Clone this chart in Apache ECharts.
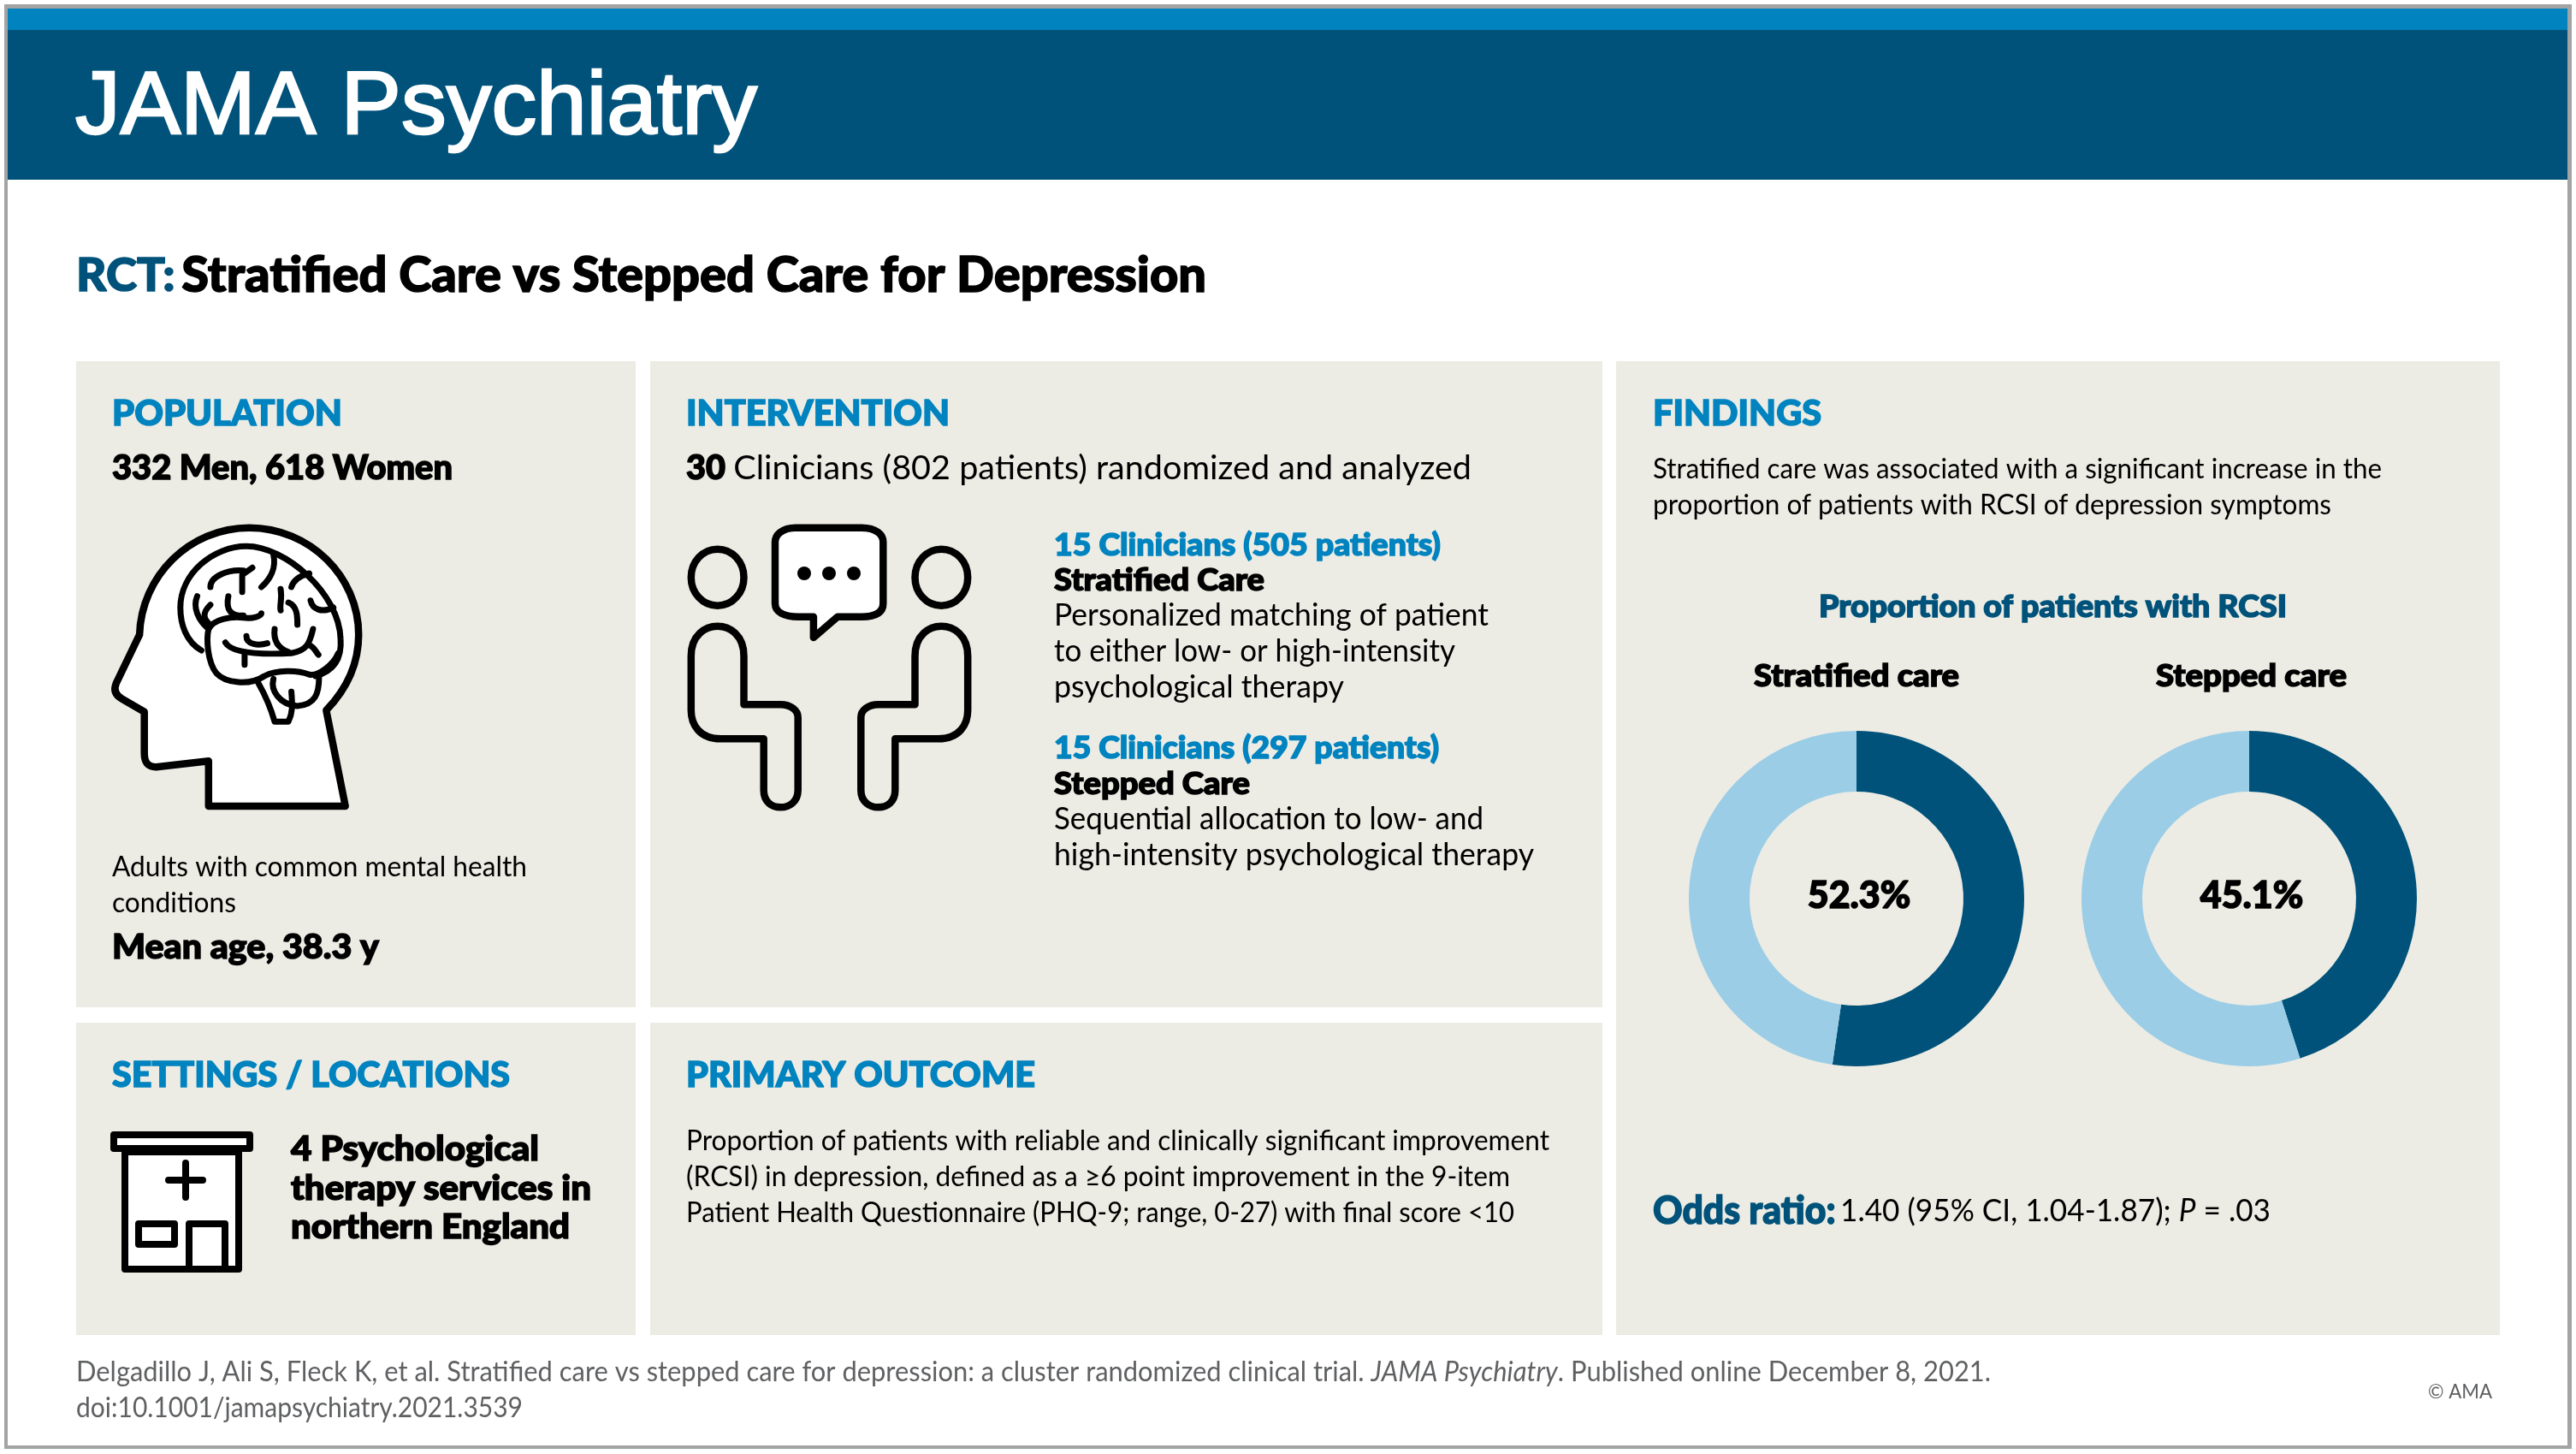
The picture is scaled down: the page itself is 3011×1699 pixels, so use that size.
<!DOCTYPE html>
<html><head><meta charset="utf-8">
<style>html,body{margin:0;padding:0;background:#fff}#c{width:3011px;height:1699px}</style>
<script src="https://cdn.jsdelivr.net/npm/echarts@6/dist/echarts.min.js"></script>
</head><body><div id="c"></div>
<script>
// ---- data ----
const categories = ['Stratified care', 'Stepped care'];
const sliceNames = ['Patients with RCSI', 'Patients without RCSI'];
const stratifiedValues = [52.3, 47.7];
const steppedValues = [45.1, 54.9];

const DARK='#00527A', BLUE='#0083BF', LIGHT='#9BCDE6', PANEL='#ECECE4', BLACK='#000', GRAY='#5F6062';
const SANS='Lato';
const ctx=document.createElement('canvas').getContext('2d');
function fontStr(r){return `${r.fontStyle||'normal'} ${r.fontWeight} ${r.fontSize}px ${r.fontFamily}`;}
function width(r,t){ctx.font=fontStr(r);return ctx.measureText(t).width;}
const els=[];
function rect(x0,y0,x1,y1,fill){els.push({type:'rect',silent:true,shape:{x:x0,y:y0,width:x1-x0,height:y1-y0},style:{fill}});}
const heavy=(w,color)=>w>=700?{stroke:color,lineWidth:1.5,lineJoin:'round'}:{};
// one line of text, stretched to span x0..x1 with its middle at y
function line(t,x0,x1,y,size,weight,color,family){
  const r={fontSize:size,fontWeight:weight,fontFamily:family||SANS};
  els.push({type:'text',silent:true,x:x0,y:y+1,scaleX:(x1-x0)/width(r,t),
    style:{text:t,fill:color,align:'left',verticalAlign:'middle',...r,...heavy(weight,color)}});
}
// mixed-style line: runs = [[text, size, weight, color, italic]]
function mixed(runs,x0,x1,y){
  let w=0,s='';const rich={};
  runs.forEach((u,i)=>{const r={fontSize:u[1],fontWeight:u[2],fontFamily:SANS,fontStyle:u[4]?'italic':'normal'};
    w+=width(r,u[0]);s+=`{r${i}|${u[0]}}`;rich['r'+i]={...r,fill:u[3],...heavy(u[2],u[3])};});
  els.push({type:'text',silent:true,x:x0,y:y+1,scaleX:(x1-x0)/w,style:{text:s,rich,align:'left',verticalAlign:'middle'}});
}
// register and add a stroked icon path (absolute SVG path data)
let pid=0;
function icon(d,fill,lw){
  const name='iconpath'+(pid++);
  echarts.graphic.registerShape(name,echarts.graphic.extendPath(d));
  els.push({type:name,silent:true,style:{fill:fill||'none',stroke:BLACK,lineWidth:lw||8.5,lineJoin:'round',lineCap:'round'}});
}
// convert paths measured in a crop frame into page coordinates
function frame(d,ox,oy,fx,fy){let i=0;return d.replace(/-?\d+(\.\d+)?/g,n=>{const v=(i++%2===0)?ox+n*fx:oy+n*fy;return v.toFixed(1);});}
const Z=d=>frame(d,60,560,0.7015,1/3);

// ---- page furniture ----
rect(5,5,3006,1693,'#A3A3A3');
rect(9,10,3001,1689,'#fff');
rect(9,10,3001,35,BLUE);
rect(9,35,3001,210,DARK);
rect(89,422,743,1177,PANEL);
rect(760,422,1873,1177,PANEL);
rect(89,1195,743,1560,PANEL);
rect(760,1195,1873,1560,PANEL);
rect(1889,422,2922,1560,PANEL);

// ---- texts ----
els.push({type:'text',silent:true,x:88,y:127,scaleX:(885-88)/width({fontSize:104,fontWeight:400,fontFamily:'Liberation Sans'},'JAMA Psychiatry'),
  style:{text:'JAMA Psychiatry',fill:'#fff',stroke:'#fff',lineWidth:2.5,align:'left',verticalAlign:'middle',fontSize:104,fontWeight:400,fontFamily:'Liberation Sans'}});
mixed([['RCT:',54,900,DARK],[' ',30,400,BLACK],['Stratified Care vs Stepped Care for Depression',57,900,BLACK]],89,1410,322);
line('POPULATION',131,400,483,41,900,BLUE);
line('332 Men, 618 Women',131,529,546,39,900,BLACK);
line('Adults with common mental health',131,616,1013,32,400,BLACK);
line('conditions',131,276,1055,32,400,BLACK);
line('Mean age, 38.3 y',131,443,1106,39,900,BLACK);
line('INTERVENTION',802,1110,483,41,900,BLUE);
mixed([['30 ',39,900,BLACK],['Clinicians (802 patients) randomized and analyzed',39,400,BLACK]],802,1720,546);
line('15 Clinicians (505 patients)',1232,1684,636,36,900,BLUE);
line('Stratified Care',1232,1478,677,36,900,BLACK);
line('Personalized matching of patient',1232,1740,718,36,400,BLACK);
line('to either low- or high-intensity',1232,1701,760,36,400,BLACK);
line('psychological therapy',1232,1571,802,36,400,BLACK);
line('15 Clinicians (297 patients)',1232,1682,873,36,900,BLUE);
line('Stepped Care',1232,1461,915,36,900,BLACK);
line('Sequential allocation to low- and',1232,1734,956,36,400,BLACK);
line('high-intensity psychological therapy',1232,1793,998,36,400,BLACK);
line('SETTINGS / LOCATIONS',131,596,1256,41,900,BLUE);
line('4 Psychological',340,630,1342,39,900,BLACK);
line('therapy services in',340,691,1388,39,900,BLACK);
line('northern England',340,666,1433,39,900,BLACK);
line('PRIMARY OUTCOME',802,1210,1256,41,900,BLUE);
line('Proportion of patients with reliable and clinically significant improvement',802,1811,1333,32,400,BLACK);
line('(RCSI) in depression, defined as a \u22656 point improvement in the 9-item',802,1765,1375,32,400,BLACK);
line('Patient Health Questionnaire (PHQ-9; range, 0-27) with final score <10',802,1770,1417,32,400,BLACK);
line('FINDINGS',1932,2129,483,41,900,BLUE);
line('Stratified care was associated with a significant increase in the',1932,2784,548,32,400,BLACK);
line('proportion of patients with RCSI of depression symptoms',1932,2725,590,32,400,BLACK);
line('Proportion of patients with RCSI',2126,2673,708,36,900,DARK);
line(categories[0],2050,2290,789,36,900,BLACK);
line(categories[1],2520,2743,789,36,900,BLACK);
mixed([['Odds ratio:',45,900,DARK],[' ',22,400,BLACK],['1.40 (95% CI, 1.04-1.87); ',37,400,BLACK],['P',37,400,BLACK,true],[' = .03',37,400,BLACK]],1932,2654,1414);
mixed([['Delgadillo J, Ali S, Fleck K, et al. Stratified care vs stepped care for depression: a cluster randomized clinical trial. ',32,400,GRAY],['JAMA Psychiatry',32,400,GRAY,true],['. Published online December 8, 2021.',32,400,GRAY]],89,2327,1603);
line('doi:10.1001/jamapsychiatry.2021.3539',89,611,1645,32,400,GRAY);
line('\u00A9 AMA',2838,2913,1625,24,400,GRAY);

// ---- icons ----
// head
icon(Z('M262 1146 L262 988 L178 1008 C160 1012 155 990 155 960 L155 815 L118 770 C105 755 104 735 108 715 L147 545 C150 340 230 170 330 170 C430 170 512 340 512 545 C512 650 490 740 458 810 L490 1146 Z'),'#fff');
// brain
[
 'M250 600 C225 570 215 510 215 450 C215 330 270 235 325 235 C390 235 480 400 482 560 C484 620 475 670 440 690',
 'M262 525 C258 560 260 640 275 680 C290 715 330 725 355 690 C375 668 410 668 430 685 C445 690 470 650 478 610',
 'M262 525 C270 490 300 480 320 485 C335 490 350 480 350 470',
 'M345 715 C360 770 368 820 372 850 L395 850 C402 820 402 795 400 745',
 'M370 700 C365 740 380 790 410 795 C440 790 446 750 446 695',
 'M370 265 C375 310 365 350 350 378','M265 378 C265 340 295 315 320 320','M318 395 L318 335 L335 310',
 'M295 410 C290 460 300 480 320 478','M243 410 C235 450 245 495 262 525','M265 440 C250 470 255 490 262 505',
 'M400 378 C405 345 420 335 430 330','M432 425 C435 455 450 470 470 450','M382 385 C385 420 380 440 382 460',
 'M395 432 C410 445 410 480 410 510','M290 572 C300 610 350 615 400 610 C425 600 430 580 436 525',
 'M372 525 C370 560 375 590 395 605','M325 550 C325 580 345 585 360 575','M322 610 L322 650','M428 580 C440 590 440 605 445 615'
].forEach(d=>icon(Z(d),null,7));
// people
const head=cx=>`M${cx-44} 344 C${cx-44} 290 ${cx-25} 245 ${cx} 245 C${cx+25} 245 ${cx+44} 290 ${cx+44} 344 C${cx+44} 398 ${cx+25} 443 ${cx} 443 C${cx-25} 443 ${cx-44} 398 ${cx-44} 344 Z`;
icon(Z(head(1110)),null,8.5);icon(Z(head(1483)),null,8.5);
icon(Z('M1066 620 C1066 545 1090 515 1110 515 C1130 515 1154 545 1154 620 L1154 790 L1215 790 C1232 790 1244 810 1244 835 L1244 1090 C1244 1130 1230 1150 1215 1150 C1200 1150 1187 1130 1187 1090 L1187 910 L1115 910 C1080 910 1066 860 1066 810 Z'),null,8.5);
icon(Z('M1527 620 C1527 545 1503 515 1483 515 C1463 515 1439 545 1439 620 L1439 790 L1378 790 C1361 790 1349 810 1349 835 L1349 1090 C1349 1130 1363 1150 1378 1150 C1393 1150 1406 1130 1406 1090 L1406 910 L1478 910 C1513 910 1527 860 1527 810 Z'),null,8.5);
// speech bubble
icon(Z('M1240 170 L1350 170 C1375 170 1386 195 1386 220 L1386 435 C1386 465 1375 482 1350 482 L1310 482 L1270 555 L1270 482 L1245 482 C1220 482 1206 465 1206 435 L1206 220 C1206 195 1218 170 1240 170 Z'),'#fff',8.5);
[940,969,998].forEach(x=>els.push({type:'circle',silent:true,shape:{cx:x,cy:670,r:8},style:{fill:BLACK}}));
// building
icon('M133 1326 L292 1326 L292 1342 L133 1342 Z','#fff',8);
icon('M146 1346 L279 1346 L279 1483 L146 1483 Z','#fff',8);
icon('M197 1379 L237 1379 M217 1359 L217 1399',null,8);
icon('M162 1430 L204 1430 L204 1454 L162 1454 Z',null,8);
icon('M221 1483 L221 1430 L263 1430 L263 1483',null,8);

// ---- chart ----
function donut(name,values,cx){
  return {type:'pie',name,radius:[125,196],center:[cx,1050],startAngle:90,clockwise:true,silent:true,animation:false,
    labelLine:{show:false},avoidLabelOverlap:false,
    data:[
      {name:sliceNames[0],value:values[0],itemStyle:{color:DARK},
       label:{show:true,position:'center',offset:[3,-3],formatter:()=>values[0].toFixed(1)+'%',fontSize:43,fontWeight:900,fontFamily:SANS,color:BLACK,textBorderColor:BLACK,textBorderWidth:1.5}},
      {name:sliceNames[1],value:values[1],itemStyle:{color:LIGHT},label:{show:false}}
    ]};
}
const chart=echarts.init(document.getElementById('c'),null,{width:3011,height:1699});
chart.setOption({animation:false,backgroundColor:'#fff',
  graphic:{elements:els},
  series:[donut(categories[0],stratifiedValues,2170),donut(categories[1],steppedValues,2629)]
});
</script></body></html>
